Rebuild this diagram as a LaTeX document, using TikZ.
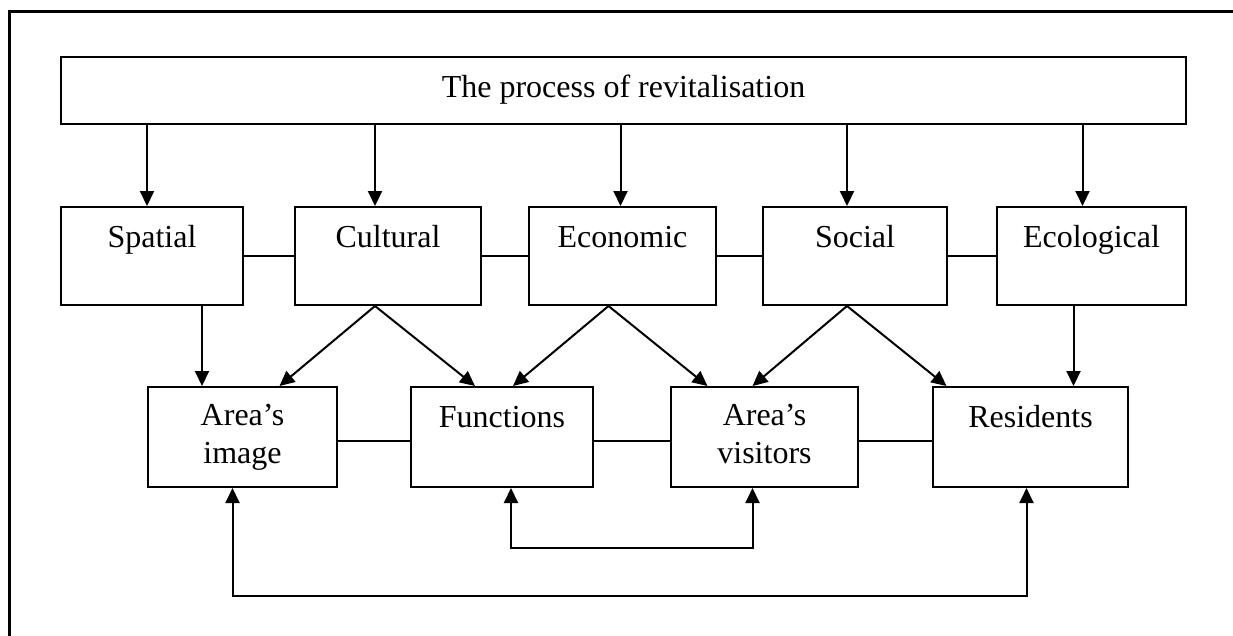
\documentclass[tikz,border=0pt]{standalone}
\usepackage{fontspec}
\setmainfont{Liberation Serif}
\usetikzlibrary{shapes,arrows.meta,positioning,calc}

\tikzset{
    box/.style={draw, line width=2pt, minimum width=186pt, minimum height=98pt, inner sep=0pt},
    lbl/.style={anchor=north, inner sep=0pt, align=center, yshift=-15pt,
        font=\fontsize{32}{38}\selectfont, execute at begin node=\strut},
    link/.style={line width=2pt},
    arr/.style={line width=2pt, -{Triangle[length=15pt,width=14pt]}},
    loop/.style={line width=2pt, {Triangle[length=15pt,width=14pt]}-{Triangle[length=15pt,width=14pt]}},
}

\begin{document}
\begin{tikzpicture}[x=1pt, y=-1pt]
    \useasboundingbox (0,0) rectangle (1233,635);
    \clip (0,0) rectangle (1233,635);

    % frame
    \draw[line width=3pt] (9.5,11.5) rectangle (1280,680);

    % process
    \node[box, minimum width=1125pt, minimum height=67pt,
        label={[lbl]north:The process of revitalisation}] (proc) at (623.5,90.5) {};

    % dimensions
    \node[box, minimum width=182pt, label={[lbl]north:Spatial}] (sp) at (152,256) {};
    \node[box, label={[lbl]north:Cultural}] (cu) at (388,256) {};
    \node[box, minimum width=187pt, label={[lbl]north:Economic}] (ec) at (622.5,256) {};
    \node[box, minimum width=184pt, label={[lbl]north:Social}] (so) at (855,256) {};
    \node[box, minimum width=189pt, label={[lbl]north:Ecological}] (eco) at (1091.5,256) {};

    % effects
    \node[box, minimum width=189pt, minimum height=100pt, label={[lbl,yshift=-3pt]north:{Area's\\image}}] (ai) at (242.5,437) {};
    \node[box, minimum width=182pt, minimum height=100pt, label={[lbl]north:Functions}] (fn) at (502,437) {};
    \node[box, minimum width=187pt, minimum height=100pt, label={[lbl,yshift=-3pt]north:{Area's\\visitors}}] (vis) at (764.5,437) {};
    \node[box, minimum width=195pt, minimum height=100pt, label={[lbl]north:Residents}] (res) at (1030.5,437) {};

    % process -> dimensions
    \draw[arr] ([xshift=-5]sp.north |- proc.south) -- ([xshift=-5]sp.north);
    \draw[arr] ([xshift=-13]cu.north |- proc.south) -- ([xshift=-13]cu.north);
    \draw[arr] ([xshift=-2]ec.north |- proc.south) -- ([xshift=-2]ec.north);
    \draw[arr] ([xshift=-8]so.north |- proc.south) -- ([xshift=-8]so.north);
    \draw[arr] ([xshift=-9]eco.north |- proc.south) -- ([xshift=-9]eco.north);

    % links in rows
    \draw[link] (sp) -- (cu) (cu) -- (ec) (ec) -- (so) (so) -- (eco);
    \draw[link] ([yshift=-4]ai.east) -- ([yshift=-4]fn.west)
        ([yshift=-4]fn.east) -- ([yshift=-4]vis.west)
        ([yshift=-4]vis.east) -- ([yshift=-4]res.west);

    % dimensions -> effects
    \draw[arr] ([xshift=50]sp.south) -- ([xshift=50]sp.south |- ai.north);
    \draw[arr] ([xshift=-13]cu.south) -- ([xshift=37]ai.north);
    \draw[arr] ([xshift=-13]cu.south) -- ([xshift=-27]fn.north);
    \draw[arr] ([xshift=-14]ec.south) -- ([xshift=11]fn.north);
    \draw[arr] ([xshift=-14]ec.south) -- ([xshift=-57]vis.north);
    \draw[arr] ([xshift=-8]so.south) -- ([xshift=-12]vis.north);
    \draw[arr] ([xshift=-8]so.south) -- ([xshift=-84]res.north);
    \draw[arr] ([xshift=-18]eco.south) -- ([xshift=-18]eco.south |- res.north);

    % feedback loops
    \draw[loop] ([xshift=9]fn.south) -- ++(0,60) -| ([xshift=-12]vis.south);
    \draw[loop] ([xshift=-10]ai.south) -- ++(0,108) -| ([xshift=-4]res.south);
\end{tikzpicture}
\end{document}
